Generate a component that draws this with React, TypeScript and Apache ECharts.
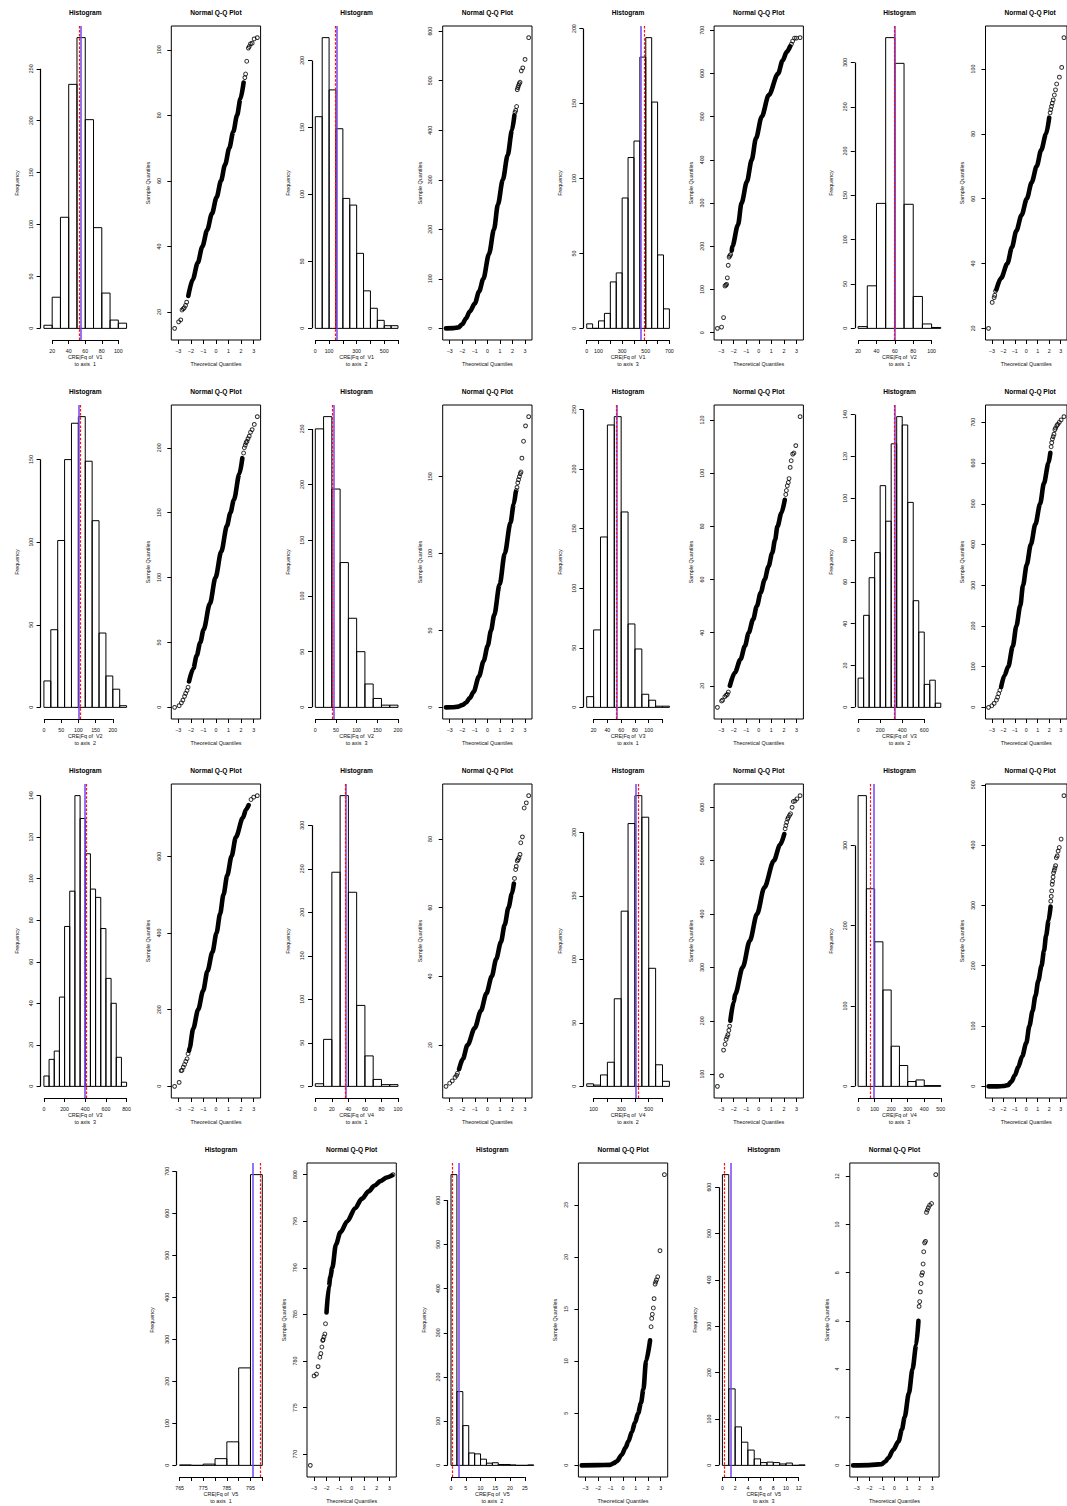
import React, { useEffect, useRef } from "react";
import * as echarts from "echarts";

type Pt = [number, number];

// ---------------- Histogram data (counts per bin, bin start, bin width) ----------------
const histV1a1 = [3, 30, 107, 235, 280, 201, 97, 34, 8, 5];
const histV1a2 = [158, 217, 178, 149, 97, 92, 56, 28, 15, 6, 2, 2];
const histV1a3 = [3, 0, 5, 10, 31, 37, 87, 114, 125, 181, 194, 151, 49, 13];
const histV2a1 = [2, 48, 141, 328, 299, 140, 36, 5, 1];
const histV2a2 = [16, 47, 101, 150, 172, 176, 149, 113, 45, 19, 11, 1];
const histV2a3 = [250, 261, 196, 130, 80, 50, 21, 8, 2, 2];
const histV3a1 = [9, 65, 143, 237, 244, 164, 70, 49, 11, 6, 1, 1];
const histV3a2 = [14, 44, 62, 74, 106, 89, 126, 139, 135, 98, 51, 36, 11, 13, 2];
const histV3a3 = [5, 13, 17, 43, 77, 94, 140, 129, 112, 95, 91, 76, 52, 40, 14, 2];
const histV4a1 = [3, 54, 246, 334, 223, 93, 35, 8, 2, 2];
const histV4a2 = [2, 1, 9, 19, 69, 138, 207, 229, 212, 93, 17, 4];
const histV4a3 = [362, 246, 180, 120, 50, 26, 6, 8, 1, 1];
const histV5a1 = [1, 0, 3, 16, 56, 232, 692];
const histV5a2 = [658, 167, 90, 28, 26, 14, 5, 6, 2, 2, 1, 0, 0, 1];
const histV5a3 = [627, 165, 83, 50, 33, 14, 6, 7, 6, 3, 5, 0, 1];

// mean (solid purple) and median (dashed red) lines
const meanV = [54.6, 155, 457, 59.8, 101, 45.8, 53.5, 333, 397, 37.1, 406, 93, 796, 2.5, 1.26];
const medianV = [53.3, 142.5, 483, 59.1, 105, 40, 53, 330, 407, 35.8, 421, 72, 799, 0.57, 0.26];

// ---------------- Tick values ----------------
const xtV1a1 = [20, 40, 60, 80, 100];
const xtV1a2 = [0, 100, 200, 300, 400, 500, 600];
const xlV1a2 = [0, 100, 300, 500];
const xtV1a3 = [0, 100, 200, 300, 400, 500, 600, 700];
const xlV1a3 = [0, 100, 300, 500, 700];
const xtV2a1 = [20, 40, 60, 80, 100];
const xtV2a2 = [0, 50, 100, 150, 200];
const xtV2a3 = [0, 50, 100, 150, 200];
const xtV3a1 = [20, 40, 60, 80, 100, 120];
const xlV3a1 = [20, 40, 60, 80, 100];
const xtV3a2 = [0, 200, 400, 600];
const xtV3a3 = [0, 200, 400, 600, 800];
const xtV4a1 = [0, 20, 40, 60, 80, 100];
const xtV4a2 = [100, 200, 300, 400, 500, 600];
const xlV4a2 = [100, 300, 500];
const xtV4a3 = [0, 100, 200, 300, 400, 500];
const xtV5a1 = [765, 770, 775, 780, 785, 790, 795, 800];
const xlV5a1 = [765, 775, 785, 795];
const xtV5a2 = [0, 5, 10, 15, 20, 25];
const xtV5a3 = [0, 2, 4, 6, 8, 10, 12];

const ytV1a1 = [0, 50, 100, 150, 200, 250];
const ytV1a2 = [0, 50, 100, 150, 200];
const ytV1a3 = [0, 50, 100, 150, 200];
const ytV2a1 = [0, 50, 100, 150, 200, 250, 300];
const ytV2a2 = [0, 50, 100, 150];
const ytV2a3 = [0, 50, 100, 150, 200, 250];
const ytV3a1 = [0, 50, 100, 150, 200, 250];
const ytV3a2 = [0, 20, 40, 60, 80, 100, 120, 140];
const ytV3a3 = [0, 20, 40, 60, 80, 100, 120, 140];
const ytV4a1 = [0, 50, 100, 150, 200, 250, 300];
const ytV4a2 = [0, 50, 100, 150, 200];
const ytV4a3 = [0, 100, 200, 300];
const ytV5a1 = [0, 100, 200, 300, 400, 500, 600, 700];
const ytV5a2 = [0, 100, 200, 300, 400, 500, 600];
const ytV5a3 = [0, 100, 200, 300, 400, 500, 600];

const qqXTicks = [-3, -2, -1, 0, 1, 2, 3];
const qytV1a1 = [20, 40, 60, 80, 100];
const qytV1a2 = [0, 100, 200, 300, 400, 500, 600];
const qytV1a3 = [0, 100, 200, 300, 400, 500, 600, 700];
const qytV2a1 = [20, 40, 60, 80, 100];
const qytV2a2 = [0, 50, 100, 150, 200];
const qytV2a3 = [0, 50, 100, 150];
const qytV3a1 = [20, 40, 60, 80, 100, 120];
const qytV3a2 = [0, 100, 200, 300, 400, 500, 600, 700];
const qytV3a3 = [0, 200, 400, 600];
const qytV4a1 = [20, 40, 60, 80];
const qytV4a2 = [100, 200, 300, 400, 500, 600];
const qytV4a3 = [0, 100, 200, 300, 400, 500];
const qytV5a1 = [770, 775, 780, 785, 790, 795, 800];
const qytV5a2 = [0, 5, 10, 15, 20, 25];
const qytV5a3 = [0, 2, 4, 6, 8, 10, 12];

// ---------------- Q-Q data: dense curve and sparse points ----------------
const qqV1a1Curve: Pt[] = [[-2.2, 24.9], [-1.84, 30], [-1.45, 35], [-1.08, 40], [-0.7, 45], [-0.32, 50], [0.05, 55], [0.4, 60], [0.73, 65], [1.06, 70], [1.38, 75], [1.68, 80], [1.95, 85], [2.2, 90]];
const qqV1a1Pts: Pt[] = [[-3.29, 15], [-2.97, 17], [-2.8, 17.6], [-2.7, 20.6], [-2.6, 21], [-2.52, 21.3], [-2.42, 22], [-2.33, 23], [2.3, 91.5], [2.36, 92.6], [2.45, 96.5], [2.58, 100.5], [2.65, 101], [2.75, 101.8], [2.88, 102], [3.04, 103.3], [3.29, 103.7]];

const qqV1a2Curve: Pt[] = [[-3.29, 0], [-2.7, 0.5], [-2.3, 2], [-2.0, 8], [-1.7, 20], [-1.4, 34], [-1.0, 50], [-0.65, 75], [-0.32, 100], [0.13, 150], [0.53, 200], [0.84, 250], [1.23, 300], [1.62, 350], [1.96, 400], [2.15, 430]];
const qqV1a2Pts: Pt[] = [[2.2, 436], [2.26, 440], [2.33, 448], [2.38, 482], [2.43, 486], [2.48, 490], [2.54, 494], [2.6, 497], [2.7, 520], [2.82, 526], [3.0, 543], [3.29, 587]];

const qqV1a3Curve: Pt[] = [[-2.15, 190], [-2.1, 200], [-1.65, 250], [-1.37, 300], [-0.94, 350], [-0.56, 400], [-0.22, 450], [0.235, 500], [0.8, 550], [1.54, 600], [1.9, 630], [2.23, 650], [2.5, 663]];
const qqV1a3Pts: Pt[] = [[-3.29, 10], [-2.96, 13], [-2.8, 35], [-2.69, 108], [-2.62, 110], [-2.56, 112], [-2.5, 127], [-2.43, 156], [-2.36, 175], [-2.3, 178], [-2.24, 181], [2.6, 668], [2.7, 675], [2.85, 682], [3.0, 682], [3.29, 683]];

const qqV2a1Curve: Pt[] = [[-2.6, 32], [-2.2, 35.5], [-1.645, 40], [-1.25, 45], [-0.875, 50], [-0.4, 55], [0.05, 60], [0.47, 65], [0.91, 70], [1.3, 75], [1.73, 80], [2.0, 85]];
const qqV2a1Pts: Pt[] = [[-3.29, 20], [-2.97, 28], [-2.8, 29.5], [-2.75, 30.2], [-2.68, 31.5], [2.08, 86.5], [2.14, 87.5], [2.2, 88.5], [2.27, 89.5], [2.35, 90.5], [2.45, 92], [2.55, 93.6], [2.65, 95.4], [2.89, 97.5], [3.09, 100.5], [3.29, 109.7]];

const qqV2a2Curve: Pt[] = [[-2.14, 20], [-1.8, 30], [-1.53, 40], [-1.25, 50], [-0.98, 60], [-0.48, 80], [-0.035, 100], [0.42, 120], [0.88, 140], [1.15, 150], [1.43, 160], [1.87, 180], [2.1, 192]];
const qqV2a2Pts: Pt[] = [[-3.29, 0], [-2.93, 1.3], [-2.75, 3.5], [-2.63, 5.6], [-2.5, 8.5], [-2.41, 10.8], [-2.3, 13], [-2.22, 15.5], [2.2, 196], [2.26, 200], [2.33, 202], [2.4, 204], [2.47, 205], [2.55, 207], [2.65, 209], [2.75, 212], [2.88, 214], [3.05, 218], [3.29, 224]];

const qqV2a3Curve: Pt[] = [[-3.29, 0], [-2.8, 0.1], [-2.3, 0.5], [-2.0, 1.5], [-1.7, 3], [-1.4, 6], [-1.1, 10], [-0.67, 20], [-0.3, 30], [0.03, 40], [0.29, 50], [0.545, 60], [0.98, 80], [1.385, 100], [1.84, 120], [2.1, 132], [2.26, 140]];
const qqV2a3Pts: Pt[] = [[2.3, 141], [2.36, 143], [2.42, 146], [2.48, 148], [2.55, 150], [2.62, 152], [2.68, 153], [2.75, 162], [2.88, 173], [3.04, 183], [3.29, 189]];

const qqV3a1Curve: Pt[] = [[-2.3, 20], [-1.9, 25], [-1.45, 30], [-1.1, 35], [-0.8, 40], [-0.45, 45], [-0.15, 50], [0.15, 55], [0.47, 60], [0.78, 65], [1.07, 70], [1.3, 75], [1.49, 80], [1.8, 85], [2.07, 90]];
const qqV3a1Pts: Pt[] = [[-3.29, 11.9], [-2.96, 14.3], [-2.88, 14.6], [-2.7, 15.9], [-2.6, 16.4], [-2.5, 16.8], [-2.42, 17.7], [2.15, 92], [2.2, 93.5], [2.27, 95.3], [2.35, 96.5], [2.41, 98], [2.5, 102.2], [2.58, 104.7], [2.7, 107.2], [2.8, 107.6], [2.95, 110.4], [3.29, 121.3]];

const qqV3a2Curve: Pt[] = [[-2.19, 50], [-1.9, 78], [-1.57, 100], [-1.175, 150], [-0.86, 200], [-0.52, 250], [-0.28, 300], [0.04, 350], [0.4, 400], [0.8, 450], [1.21, 500], [1.54, 550], [1.94, 600], [2.1, 625]];
const qqV3a2Pts: Pt[] = [[-3.29, 0], [-3.0, 4], [-2.8, 9.8], [-2.6, 18], [-2.5, 25], [-2.4, 34], [-2.3, 42], [2.17, 640], [2.22, 650], [2.28, 659], [2.35, 665], [2.42, 671], [2.5, 682], [2.56, 686], [2.67, 692], [2.75, 695], [2.88, 700], [3.04, 706], [3.29, 714]];

const qqV3a3Curve: Pt[] = [[-2.14, 93], [-2.1, 100], [-1.81, 150], [-1.42, 200], [-1.015, 250], [-0.68, 300], [-0.28, 350], [0.045, 400], [0.33, 450], [0.6, 500], [0.9, 550], [1.24, 600], [1.59, 650], [2.14, 700], [2.4, 722], [2.6, 733]];
const qqV3a3Pts: Pt[] = [[-3.29, 0], [-2.93, 10.4], [-2.77, 40.8], [-2.7, 42], [-2.6, 50], [-2.5, 57], [-2.4, 65], [-2.3, 72], [-2.22, 85], [2.79, 748], [3.0, 754], [3.29, 758]];

const qqV4a1Curve: Pt[] = [[-2.25, 13], [-1.95, 16], [-1.58, 20], [-1.0, 25], [-0.515, 30], [-0.08, 35], [0.35, 40], [0.7, 45], [1.08, 50], [1.38, 55], [1.68, 60], [1.95, 64], [2.11, 67]];
const qqV4a1Pts: Pt[] = [[-3.29, 8], [-3.0, 8.9], [-2.79, 9.6], [-2.57, 10.6], [-2.45, 11.2], [-2.38, 11.8], [2.16, 68.5], [2.25, 71.1], [2.3, 72], [2.38, 73.6], [2.45, 74], [2.52, 74.6], [2.6, 75.5], [2.66, 78.9], [2.79, 80.6], [2.93, 89], [3.1, 90.5], [3.29, 92.6]];

const qqV4a2Curve: Pt[] = [[-2.26, 200], [-2.0, 235], [-1.87, 250], [-1.28, 300], [-0.71, 350], [-0.14, 400], [0.45, 450], [1.2, 500], [1.7, 530], [2.03, 550]];
const qqV4a2Pts: Pt[] = [[-3.29, 77], [-2.96, 97], [-2.8, 145], [-2.68, 156], [-2.6, 165], [-2.52, 170], [-2.45, 174], [-2.38, 182], [-2.32, 190], [2.1, 560], [2.16, 566], [2.22, 572], [2.3, 578], [2.35, 581], [2.45, 585], [2.53, 588], [2.65, 600], [2.75, 611], [2.88, 612], [3.04, 616], [3.29, 622]];

const qqV4a3Curve: Pt[] = [[-3.29, 0], [-2.5, 0], [-2.0, 0.5], [-1.6, 2], [-1.3, 8], [-1.0, 18], [-0.7, 32], [-0.35, 50], [0, 72], [0.275, 100], [0.55, 125], [0.8, 150], [1.05, 175], [1.33, 200], [1.55, 225], [1.73, 250], [1.95, 275], [2.12, 298]];
const qqV4a3Pts: Pt[] = [[2.14, 307], [2.18, 315], [2.22, 324], [2.26, 335], [2.3, 340], [2.34, 347], [2.38, 354], [2.44, 358], [2.5, 362], [2.56, 366], [2.62, 379], [2.7, 382], [2.78, 390], [2.88, 396], [3.04, 410], [3.29, 482]];

const qqV5a1Curve: Pt[] = [[-2.0, 785.2], [-1.81, 788], [-1.7, 789], [-1.54, 790], [-1.25, 792.5], [-0.9, 793.8], [-0.34, 795], [0.28, 796.4], [0.8, 797.4], [1.35, 798.2], [1.8, 798.8], [2.29, 799.3], [2.8, 799.7], [3.2, 799.9]];
const qqV5a1Pts: Pt[] = [[-3.29, 768.8], [-2.99, 778.4], [-2.8, 778.6], [-2.67, 779.4], [-2.53, 780.4], [-2.45, 780.8], [-2.37, 781.5], [-2.3, 782.2], [-2.27, 782.3], [-2.2, 782.6], [-2.13, 782.9], [-2.08, 784], [3.29, 800]];

const qqV5a2Curve: Pt[] = [[-3.29, 0], [-2.0, 0.02], [-1.03, 0.05], [-0.75, 0.2], [-0.5, 0.4], [-0.11, 1.0], [0.2, 1.7], [0.42, 2.3], [0.7, 3.2], [0.95, 4.1], [1.2, 5.0], [1.43, 6.0], [1.62, 7.3], [1.83, 10], [2.15, 12]];
const qqV5a2Pts: Pt[] = [[2.23, 13.3], [2.28, 14.1], [2.33, 14.5], [2.41, 15.1], [2.47, 16], [2.55, 17.4], [2.6, 17.6], [2.66, 17.8], [2.76, 18.1], [2.94, 20.6], [3.29, 27.9]];

const qqV5a3Curve: Pt[] = [[-3.29, 0], [-2.0, 0.01], [-1.02, 0.05], [-0.75, 0.15], [-0.49, 0.3], [-0.09, 0.65], [0.325, 1.0], [0.6, 1.5], [0.81, 2.0], [1.15, 3.0], [1.44, 4.0], [1.73, 5.0], [1.91, 6.0]];
const qqV5a3Pts: Pt[] = [[1.96, 6.6], [2.01, 6.8], [2.06, 7.2], [2.12, 7.55], [2.17, 7.9], [2.23, 8.0], [2.28, 8.36], [2.33, 8.87], [2.4, 9.24], [2.47, 9.3], [2.55, 10.5], [2.62, 10.6], [2.7, 10.7], [2.8, 10.8], [2.95, 10.87], [3.29, 12.07]];

// ---------------- Panel definitions ----------------
type Hist = { v: number; a: number; start: number; width: number; counts: number[]; xTicks: number[]; xLabels: number[]; yTicks: number[]; mean: number; median: number };
type QQ = { curve: Pt[]; pts: Pt[]; yTicks: number[] };
type Panel = { kind: "hist" | "qq"; row: number; col: number; hist?: Hist; qq?: QQ };

const H = (i: number, v: number, a: number, start: number, width: number, counts: number[], xTicks: number[], xLabels: number[], yTicks: number[]): Hist =>
  ({ v, a, start, width, counts, xTicks, xLabels, yTicks, mean: meanV[i], median: medianV[i] });

const hists: Hist[] = [
  H(0, 1, 1, 10, 10, histV1a1, xtV1a1, xtV1a1, ytV1a1),
  H(1, 1, 2, 0, 50, histV1a2, xtV1a2, xlV1a2, ytV1a2),
  H(2, 1, 3, 0, 50, histV1a3, xtV1a3, xlV1a3, ytV1a3),
  H(3, 2, 1, 20, 10, histV2a1, xtV2a1, xtV2a1, ytV2a1),
  H(4, 2, 2, 0, 20, histV2a2, xtV2a2, xtV2a2, ytV2a2),
  H(5, 2, 3, 0, 20, histV2a3, xtV2a3, xtV2a3, ytV2a3),
  H(6, 3, 1, 10, 10, histV3a1, xtV3a1, xlV3a1, ytV3a1),
  H(7, 3, 2, 0, 50, histV3a2, xtV3a2, xtV3a2, ytV3a2),
  H(8, 3, 3, 0, 50, histV3a3, xtV3a3, xtV3a3, ytV3a3),
  H(9, 4, 1, 0, 10, histV4a1, xtV4a1, xtV4a1, ytV4a1),
  H(10, 4, 2, 50, 50, histV4a2, xtV4a2, xlV4a2, ytV4a2),
  H(11, 4, 3, 0, 50, histV4a3, xtV4a3, xtV4a3, ytV4a3),
  H(12, 5, 1, 765, 5, histV5a1, xtV5a1, xlV5a1, ytV5a1),
  H(13, 5, 2, 0, 2, histV5a2, xtV5a2, xtV5a2, ytV5a2),
  H(14, 5, 3, 0, 1, histV5a3, xtV5a3, xtV5a3, ytV5a3),
];

const qqs: QQ[] = [
  { curve: qqV1a1Curve, pts: qqV1a1Pts, yTicks: qytV1a1 },
  { curve: qqV1a2Curve, pts: qqV1a2Pts, yTicks: qytV1a2 },
  { curve: qqV1a3Curve, pts: qqV1a3Pts, yTicks: qytV1a3 },
  { curve: qqV2a1Curve, pts: qqV2a1Pts, yTicks: qytV2a1 },
  { curve: qqV2a2Curve, pts: qqV2a2Pts, yTicks: qytV2a2 },
  { curve: qqV2a3Curve, pts: qqV2a3Pts, yTicks: qytV2a3 },
  { curve: qqV3a1Curve, pts: qqV3a1Pts, yTicks: qytV3a1 },
  { curve: qqV3a2Curve, pts: qqV3a2Pts, yTicks: qytV3a2 },
  { curve: qqV3a3Curve, pts: qqV3a3Pts, yTicks: qytV3a3 },
  { curve: qqV4a1Curve, pts: qqV4a1Pts, yTicks: qytV4a1 },
  { curve: qqV4a2Curve, pts: qqV4a2Pts, yTicks: qytV4a2 },
  { curve: qqV4a3Curve, pts: qqV4a3Pts, yTicks: qytV4a3 },
  { curve: qqV5a1Curve, pts: qqV5a1Pts, yTicks: qytV5a1 },
  { curve: qqV5a2Curve, pts: qqV5a2Pts, yTicks: qytV5a2 },
  { curve: qqV5a3Curve, pts: qqV5a3Pts, yTicks: qytV5a3 },
];

// layout: rows 0-2 have 4 pairs (cols 0..7); row 3 has 3 pairs at cols 1..6
const panels: Panel[] = [];
hists.forEach((h, k) => {
  const row = k < 12 ? Math.floor(k / 4) : 3;
  const pairCol = k < 12 ? (k % 4) * 2 : 1 + (k - 12) * 2;
  panels.push({ kind: "hist", row, col: pairCol, hist: h });
  panels.push({ kind: "qq", row, col: pairCol + 1, qq: qqs[k] });
});

// ---------------- Layout / style constants ----------------
const FONT = "Liberation Sans";
const COLW = 135.7;
const ROWH = 379;
const HIST_L = 40.6;
const QQ_L = 35.6;
const PW = 89.3;
const PT = 26;
const PH = 314;
const TICK_FS = 5.3;
const NAME_FS = 5.4;
const PURPLE = "#7444f6";
const RED = "#ff1010";

const fmt = (v: number) => String(v).replace("-", "\u2212");
const expand = (lo: number, hi: number): [number, number] => {
  const d = (hi - lo) * 0.04;
  return [lo - d, hi + d];
};

function buildOption() {
  const grid: any[] = [];
  const xAxis: any[] = [];
  const yAxis: any[] = [];
  const series: any[] = [];
  const graphic: any[] = [];

  const tick = (vals: number[]) => ({ show: true, inside: false, length: 4, customValues: vals, lineStyle: { color: "#000", width: 1 } });
  const lab = (vals: number[], margin: number, rotate: number) => ({
    show: true, customValues: vals, fontSize: TICK_FS, color: "#111", fontFamily: FONT, margin, rotate, formatter: fmt,
  });
  const nameStyle = { fontSize: NAME_FS, color: "#111", fontFamily: FONT, lineHeight: 6.7 };
  const noLine = { show: false, onZero: false };
  const axisStroke = { color: "#000", width: 1.2, type: "solid" };

  panels.forEach((p, i) => {
    const left = (p.kind === "hist" ? HIST_L : QQ_L) + p.col * COLW;
    const top = PT + p.row * ROWH;
    grid.push({
      left, top, width: PW, height: PH,
      show: p.kind === "qq", borderColor: "#000", borderWidth: 1, backgroundColor: "rgba(0,0,0,0)",
    });
    graphic.push({
      type: "text", x: left + PW / 2, y: 12.7 + p.row * ROWH, silent: true,
      style: {
        text: p.kind === "hist" ? "Histogram" : "Normal Q-Q Plot",
        fontSize: 6.6, fontWeight: "bold", fontFamily: FONT, fill: "#000",
        align: "center", verticalAlign: "middle", textAlign: "center", textVerticalAlign: "middle",
      },
    });

    if (p.kind === "hist" && p.hist) {
      const h = p.hist;
      const end = h.start + h.width * h.counts.length;
      const [xlo, xhi] = expand(h.start, end);
      const [ylo, yhi] = expand(0, Math.max(...h.counts));
      xAxis.push({
        type: "value", gridIndex: i, min: xlo, max: xhi,
        axisLine: noLine, splitLine: { show: false },
        axisTick: tick(h.xTicks), axisLabel: lab(h.xLabels, 8, 0),
        name: `CRE|Fq of  V${h.v}\nto axis  ${h.a}`, nameLocation: "middle", nameGap: 14, nameTextStyle: nameStyle,
      });
      yAxis.push({
        type: "value", gridIndex: i, min: ylo, max: yhi,
        axisLine: noLine, splitLine: { show: false },
        axisTick: tick(h.yTicks), axisLabel: lab(h.yTicks, 7.3, 90),
        name: "Frequency", nameLocation: "middle", nameGap: 20.5, nameTextStyle: nameStyle,
      });
      const bars = h.counts.map((c, k) => [h.start + k * h.width, h.start + (k + 1) * h.width, c]);
      series.push({
        type: "custom", xAxisIndex: i, yAxisIndex: i, data: bars, silent: true, clip: false,
        encode: { x: [0, 1], y: 2 },
        renderItem: (_params: any, api: any) => {
          const p0 = api.coord([api.value(0), api.value(2)]);
          const p1 = api.coord([api.value(1), 0]);
          return {
            type: "rect",
            shape: { x: p0[0], y: p0[1], width: p1[0] - p0[0], height: p1[1] - p0[1] },
            style: { fill: "none", stroke: "#000", lineWidth: 1 },
          };
        },
      });
      // R-style axis lines (first to last tick) plus mean / median reference lines
      const yTop = h.yTicks[h.yTicks.length - 1];
      const xLast = h.xTicks[h.xTicks.length - 1];
      series.push({
        type: "line", xAxisIndex: i, yAxisIndex: i, symbol: "none", silent: true, clip: false,
        data: [], lineStyle: { width: 0 },
        markLine: {
          silent: true, symbol: ["none", "none"], label: { show: false }, precision: 6,
          data: [
            [{ coord: [xlo, h.yTicks[0]], lineStyle: axisStroke }, { coord: [xlo, yTop] }],
            [{ coord: [h.xTicks[0], ylo], lineStyle: axisStroke }, { coord: [xLast, ylo] }],
            { xAxis: h.mean, lineStyle: { color: PURPLE, width: 1.5, type: "solid" } },
            { xAxis: h.median, lineStyle: { color: RED, width: 1.2, type: [2.5, 1.6] } },
          ],
        },
      });
    } else if (p.qq) {
      const q = p.qq;
      const all = q.curve.concat(q.pts);
      const xs = all.map((d) => d[0]);
      const ys = all.map((d) => d[1]);
      const [xlo, xhi] = expand(Math.min(...xs), Math.max(...xs));
      const [ylo, yhi] = expand(Math.min(...ys), Math.max(...ys));
      xAxis.push({
        type: "value", gridIndex: i, min: xlo, max: xhi,
        axisLine: noLine, splitLine: { show: false },
        axisTick: tick(qqXTicks), axisLabel: lab(qqXTicks, 8, 0),
        name: "Theoretical Quantiles", nameLocation: "middle", nameGap: 20.7, nameTextStyle: nameStyle,
      });
      yAxis.push({
        type: "value", gridIndex: i, min: ylo, max: yhi,
        axisLine: noLine, splitLine: { show: false },
        axisTick: tick(q.yTicks), axisLabel: lab(q.yTicks, 10, 90),
        name: "Sample Quantiles", nameLocation: "middle", nameGap: 19.7, nameTextStyle: nameStyle,
      });
      series.push({
        type: "line", xAxisIndex: i, yAxisIndex: i, data: q.curve, symbol: "none", silent: true,
        smooth: 0.3, smoothMonotone: "x",
        lineStyle: { color: "#000", width: 4.6, cap: "round", join: "round" },
      });
      series.push({
        type: "scatter", xAxisIndex: i, yAxisIndex: i, data: q.pts, symbol: "circle", symbolSize: 3.8, silent: true,
        itemStyle: { color: "rgba(0,0,0,0)", borderColor: "#000", borderWidth: 1 },
      });
    }
  });

  return {
    animation: false,
    backgroundColor: "#ffffff",
    textStyle: { fontFamily: FONT },
    grid, xAxis, yAxis, series, graphic,
  };
}

export default function App() {
  const ref = useRef<HTMLDivElement>(null);
  useEffect(() => {
    if (!ref.current) return;
    const chart = echarts.init(ref.current, undefined, { renderer: "svg" });
    chart.setOption(buildOption() as any);
    return () => chart.dispose();
  }, []);
  return (
    <div
      ref={ref}
      style={{ position: "absolute", left: 0, top: 0, width: 1067, height: 1506, background: "#fff" }}
    />
  );
}
